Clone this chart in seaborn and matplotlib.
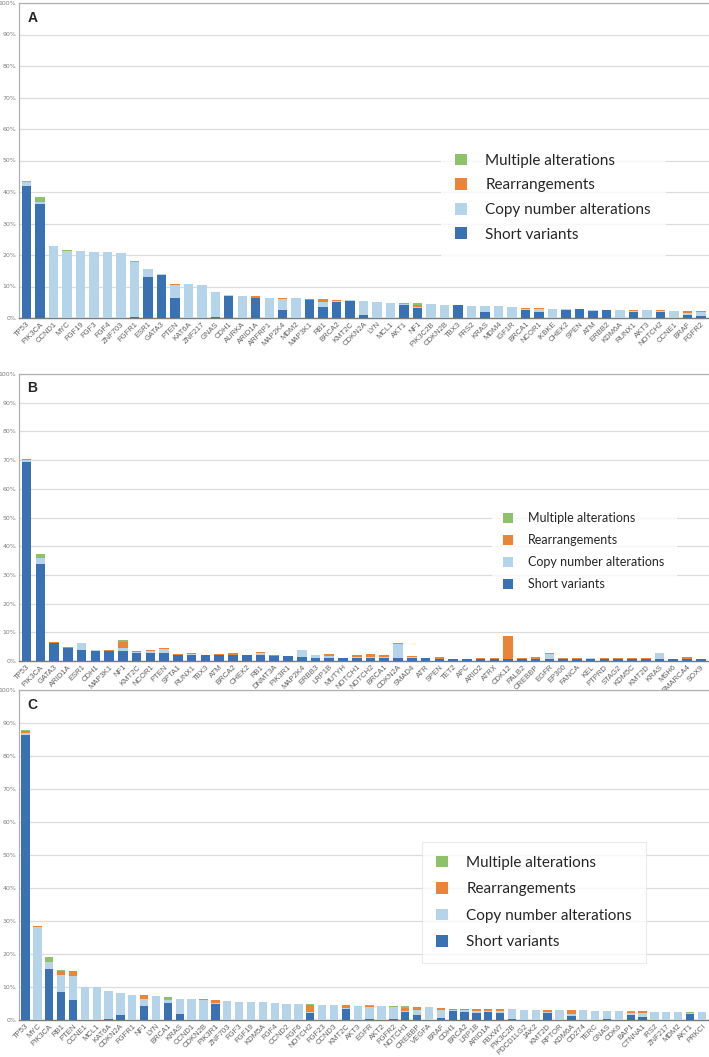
import numpy as np
import pandas as pd
import matplotlib
matplotlib.use("Agg")
import matplotlib.pyplot as plt
from matplotlib.patches import Patch
import seaborn as sns

# ---- panel A ----
genes_a = ['TP53', 'PIK3CA', 'CCND1', 'MYC', 'FGF19', 'FGF3', 'FGF4', 'ZNF703', 'FGFR1', 'ESR1',
           'GATA3', 'PTEN', 'KAT6A', 'ZNF217', 'GNAS', 'CDH1', 'AURKA', 'ARID1A', 'ARFRP1', 'MAP2K4',
           'MDM2', 'MAP3K1', 'RB1', 'BRCA2', 'KMT2C', 'CDKN2A', 'LYN', 'MCL1', 'AKT1', 'NF1',
           'PIK3C2B', 'CDKN2B', 'TBX3', 'FRS2', 'KRAS', 'MDM4', 'IGF1R', 'BRCA1', 'NCOR1', 'IKBKE',
           'CHEK2', 'SPEN', 'ATM', 'ERBB2', 'KDM6A', 'RUNX1', 'AKT3', 'NOTCH2', 'CCNE1', 'BRAF', 'FGFR2']
short_a = [42.0, 36.3, 0, 0, 0, 0, 0, 0, 0.3, 13.1,
           13.8, 6.3, 0, 0, 0.2, 7.0, 0, 6.2, 0, 2.5,
           0, 5.6, 3.5, 5.0, 5.4, 0.85, 0, 0, 4.2, 3.3,
           0, 0, 4.0, 0, 1.8, 0, 0, 2.5, 1.9, 0,
           2.65, 2.75, 2.2, 2.65, 0, 2.0, 0, 1.8, 0, 0.95, 0.6]
cna_a = [1.2, 0.6, 22.8, 21.3, 21.2, 21.0, 20.9, 20.5, 17.5, 2.3,
         0.2, 4.2, 10.7, 10.5, 8.2, 0.3, 7.1, 0.3, 6.4, 3.4,
         6.4, 0.1, 1.7, 0.4, 0.2, 4.45, 5.0, 4.65, 0.2, 0.3,
         4.45, 4.0, 0, 3.9, 1.9, 3.7, 3.5, 0.35, 0.85, 3.0,
         0.2, 0, 0.2, 0, 2.65, 0.2, 2.55, 0.3, 2.1, 0.55, 1.2]
rearr_a = [0, 0, 0, 0, 0, 0, 0, 0, 0, 0,
           0, 0.3, 0, 0, 0, 0, 0, 0.4, 0, 0.4,
           0, 0.3, 0.7, 0.4, 0, 0, 0, 0, 0, 0.6,
           0, 0, 0, 0, 0, 0, 0, 0.35, 0.45, 0,
           0, 0, 0.25, 0, 0, 0.45, 0, 0.45, 0, 0.6, 0.4]
multi_a = [0.4, 1.4, 0, 0.3, 0, 0, 0, 0, 0.4, 0.3,
           0, 0, 0, 0, 0, 0, 0, 0, 0, 0,
           0, 0, 0, 0, 0, 0, 0, 0, 0.35, 0.45,
           0, 0, 0, 0, 0.2, 0, 0, 0, 0, 0,
           0, 0.25, 0, 0, 0, 0, 0, 0, 0, 0, 0]

# ---- panel B ----
genes_b = ['TP53', 'PIK3CA', 'GATA3', 'ARID1A', 'ESR1', 'CDH1', 'MAP3K1', 'NF1', 'KMT2C', 'NCOR1',
           'PTEN', 'SPTA1', 'RUNX1', 'TBX3', 'ATM', 'BRCA2', 'CHEK2', 'RB1', 'DNMT3A', 'PIK3R1',
           'MAP2K4', 'ERBB3', 'LRP1B', 'MUTYH', 'NOTCH1', 'NOTCH2', 'BRCA1', 'CDKN2A', 'SMAD4', 'ATR',
           'SPEN', 'TET2', 'APC', 'ARID2', 'ATRX', 'CDK12', 'PALB2', 'CREBBP', 'EGFR', 'EP300',
           'FANCA', 'KEL', 'PTPRD', 'STAG2', 'KDM5C', 'KMT2D', 'KRAS', 'MSH6', 'SMARCA4', 'SOX9']
short_b = [69.5, 33.8, 6.2, 4.5, 3.8, 3.6, 3.5, 3.4, 2.9, 2.8,
           2.8, 2.2, 2.2, 2.2, 2.1, 2.1, 2.1, 2.0, 1.75, 1.6,
           1.4, 1.2, 1.2, 1.2, 1.05, 1.05, 1.05, 1.05, 0.9, 0.9,
           0.8, 0.8, 0.7, 0.7, 0.7, 0.7, 0.7, 0.7, 0.7, 0.7,
           0.7, 0.7, 0.7, 0.7, 0.7, 0.7, 0.7, 0.7, 0.7, 0.7]
cna_b = [0.6, 2.1, 0, 0, 2.4, 0.1, 0.1, 1.1, 0.1, 0.6,
         1.4, 0.05, 0.25, 0, 0.1, 0.1, 0, 0.8, 0, 0,
         2.4, 0.8, 0.55, 0, 0.2, 0.2, 0.25, 4.85, 0.6, 0,
         0, 0, 0, 0, 0, 0, 0, 0, 1.85, 0,
         0, 0.25, 0, 0, 0, 0, 2.0, 0, 0, 0]
rearr_b = [0.4, 0, 0.3, 0.4, 0, 0.1, 0.1, 2.2, 0.4, 0.4,
           0.3, 0.3, 0.25, 0, 0.35, 0.6, 0, 0.3, 0.25, 0.25,
           0, 0.2, 0.55, 0, 0.75, 1.2, 0.8, 0.4, 0.25, 0.15,
           0.5, 0, 0, 0.2, 0.45, 7.9, 0.2, 0.6, 0.25, 0.35,
           0.45, 0, 0.35, 0.35, 0.25, 0.35, 0, 0, 0.7, 0.1]
multi_b = [0, 1.5, 0, 0, 0, 0, 0, 0.5, 0, 0,
           0.2, 0, 0, 0, 0, 0, 0, 0, 0, 0,
           0, 0, 0, 0, 0, 0, 0, 0, 0, 0,
           0, 0, 0, 0, 0, 0.2, 0, 0, 0, 0,
           0, 0, 0, 0, 0, 0, 0, 0, 0, 0]

# ---- panel C ----
genes_c = ['TP53', 'MYC', 'PIK3CA', 'RB1', 'PTEN', 'CCNE1', 'MCL1', 'KAT6A', 'CDKN2A', 'FGFR1',
           'NF1', 'LYN', 'BRCA1', 'KRAS', 'CCND1', 'CDKN2B', 'PIK3R1', 'ZNF703', 'FGF3', 'FGF19',
           'KDM5A', 'FGF4', 'CCND2', 'FGF6', 'NOTCH2', 'FGF23', 'CCND3', 'KMT2C', 'AKT3', 'EGFR',
           'AKT2', 'FGFR2', 'NOTCH1', 'CREBBP', 'VEGFA', 'BRAF', 'CDH1', 'BRCA2', 'LRP1B', 'ARID1A',
           'FBXW7', 'PIK3C2B', 'PDCD1LG2', 'JAK2', 'KMT2D', 'RPTOR', 'KDM6A', 'CD274', 'TERC', 'GNAS',
           'CDK6', 'BAP1', 'CTNNA1', 'IRS2', 'ZNF217', 'MDM2', 'AKT1', 'PRKCI']
short_c = [86.3, 0, 15.4, 8.6, 6.0, 0, 0, 0.3, 1.55, 0,
           4.3, 0, 5.2, 1.9, 0, 0, 4.8, 0, 0, 0,
           0, 0, 0, 0, 2.2, 0, 0, 3.2, 0, 0.45,
           0, 0.45, 2.45, 1.55, 0, 0.65, 2.8, 2.55, 2.0, 2.55,
           2.0, 0.45, 0, 0, 2.2, 0, 1.3, 0, 0, 0.3,
           0, 1.55, 0.9, 0, 0, 0, 1.9, 0]
cna_c = [0.8, 28.2, 2.3, 5.1, 7.2, 10.1, 9.9, 8.6, 6.55, 7.55,
         2.1, 7.2, 0.9, 4.5, 6.4, 6.1, 0.4, 5.7, 5.4, 5.55,
         5.55, 5.3, 4.9, 4.7, 0.35, 4.55, 4.55, 0.35, 4.3, 3.45,
         4.3, 3.45, 0.35, 1.45, 3.8, 2.45, 0.3, 0.35, 0.65, 0.25,
         0.65, 2.75, 3.1, 3.0, 0.25, 2.9, 0.6, 2.9, 2.65, 2.35,
         2.65, 0.55, 1.2, 2.45, 2.45, 2.45, 0.2, 2.45]
rearr_c = [0.4, 0.3, 0, 1.3, 1.6, 0, 0, 0, 0, 0,
           1.15, 0, 0, 0, 0, 0.2, 0.9, 0, 0, 0,
           0, 0, 0, 0, 1.9, 0, 0, 0.9, 0, 0.3,
           0, 0, 0.85, 0.8, 0, 0.45, 0.2, 0.3, 0.55, 0.4,
           0.55, 0, 0, 0, 0.55, 0, 1.0, 0, 0, 0,
           0, 0.35, 0.55, 0, 0, 0, 0, 0]
multi_c = [0.3, 0, 1.5, 0.2, 0, 0, 0, 0, 0, 0,
           0, 0, 0.8, 0, 0, 0, 0, 0, 0, 0,
           0, 0, 0, 0, 0.35, 0, 0, 0, 0, 0.25,
           0, 0.2, 0.45, 0, 0, 0, 0, 0, 0, 0,
           0, 0, 0, 0, 0, 0, 0, 0, 0, 0,
           0, 0.2, 0, 0, 0, 0, 0.45, 0]

series_labels = ['Multiple alterations', 'Rearrangements', 'Copy number alterations', 'Short variants']
colors = ['#8DC26B', '#EA8439', '#B5D4EA', '#3A71B2']

W, H = 709, 1057
fig = plt.figure(figsize=(W / 100, H / 100), dpi=100)
sns.set_style('white')


def fy(y):
    return 1 - y / H


def draw_panel(top, bottom, genes, short, cna, rearr, multi, letter, leg):
    ax = fig.add_axes([19 / W, fy(bottom), 1 - 19 / W, (bottom - top) / H])
    df = pd.DataFrame({'gene': genes, 'short': short, 'cna': cna, 'rearr': rearr, 'multi': multi})
    df['l1'] = df['short']
    df['l2'] = df['l1'] + df['cna']
    df['l3'] = df['l2'] + df['rearr']
    df['l4'] = df['l3'] + df['multi']
    # draw cumulative totals from the top layer down so they look stacked
    for col, c in zip(['l4', 'l3', 'l2', 'l1'], colors):
        sns.barplot(data=df, x='gene', y=col, color=c, width=0.7, errorbar=None,
                    saturation=1, linewidth=0, ax=ax, zorder=3)
    n = len(genes)
    ax.set_xlim(-0.55, n - 0.4)
    ax.set_ylim(0, 100)
    ax.set_yticks(np.arange(0, 101, 10))
    ax.set_yticklabels([f'{v}%' for v in range(0, 101, 10)], fontsize=4.5, color='#7f7f7f')
    ax.grid(axis='y', color='#dcdcdc', lw=0.9, zorder=0)
    ax.set_axisbelow(True)
    ax.set_xlabel('')
    ax.set_ylabel('')
    ax.set_xticks(range(n))
    ax.set_xticklabels(genes, rotation=45, ha='right', rotation_mode='anchor',
                       fontsize=5.5, color='#606060', family='Liberation Sans')
    ax.tick_params(axis='both', length=0, pad=2)
    for s in ['left', 'top']:
        ax.spines[s].set_color('#b0b0b0')
        ax.spines[s].set_linewidth(0.9)
    ax.spines['right'].set_visible(False)
    ax.spines['bottom'].set_color('#7a7a7a')
    ax.spines['bottom'].set_linewidth(1.0)
    ax.text(0.012, 0.975, letter, transform=ax.transAxes, fontsize=10, fontweight='bold',
            va='top', ha='left', family='Liberation Sans')

    handles = [Patch(facecolor=c, edgecolor='none') for c in colors]
    lx, ly, fs, sp, edge = leg
    lg = ax.legend(handles, series_labels, loc='upper left', bbox_to_anchor=(lx / W, fy(ly)),
                   bbox_transform=fig.transFigure, frameon=True, fancybox=False,
                   borderaxespad=0, borderpad=0.9, handlelength=0.8, handleheight=0.8,
                   handletextpad=1.2, labelspacing=sp, prop={'family': 'Lato', 'size': fs})
    lg.get_frame().set_facecolor('white')
    lg.get_frame().set_edgecolor(edge)
    lg.get_frame().set_linewidth(0.8)
    for t in lg.get_texts():
        t.set_color('#262626')
    return ax


draw_panel(3, 318, genes_a, short_a, cna_a, rearr_a, multi_a, 'A',
           (441, 140, 11, 0.68, 'white'))
draw_panel(374, 661, genes_b, short_b, cna_b, rearr_b, multi_b, 'B',
           (492, 501, 9, 0.8, 'white'))
draw_panel(690, 1020, genes_c, short_c, cna_c, rearr_c, multi_c, 'C',
           (422, 842, 11, 0.8, '#e6e6e6'))

fig.savefig('out.png', dpi=100, facecolor='white')
